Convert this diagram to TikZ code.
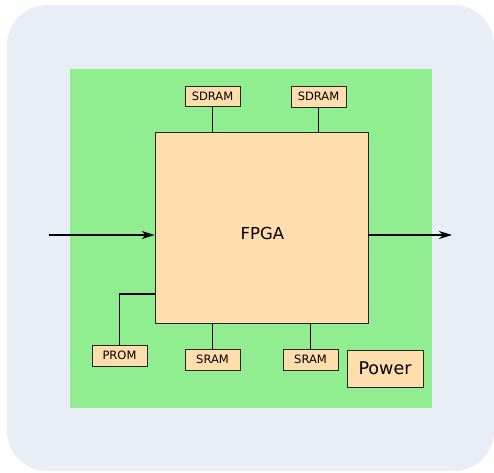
\documentclass[tikz,border=0pt]{standalone}
\usepackage{fontspec}
\setmainfont{DejaVu Sans}
\usetikzlibrary{arrows.meta}
\definecolor{panel}{HTML}{E9EEF6}
\definecolor{board}{HTML}{90EE90}
\definecolor{chip}{HTML}{FFDEAD}
\tikzset{
  part/.style={draw=black!85, fill=chip, line width=0.8pt, inner sep=0pt, font=\fontsize{11.5}{11.5}\selectfont},
  bus/.style={line width=1.1pt},
  sig/.style={line width=1.1pt, -{Stealth[length=13pt,width=8pt,inset=4pt]}}
}

\begin{document}
\begin{tikzpicture}[x=1pt,y=-1pt]
			%%%%% PANEL %%%%%
			\useasboundingbox (0,0) rectangle (494,472);
			\fill[panel, rounded corners=40pt] (7,5) rectangle (494,471);
			\fill[board] (70,69) rectangle (432,408);
			
			%%%%% PARTS %%%%%
			\node[part, minimum width=213pt, minimum height=191pt] (fpga) at (261.5,227.5) {};
			\node[font=\fontsize{16.5}{16.5}\selectfont] (fpgalabel) at (262.5,233) {FPGA};
			\node[part, minimum width=55pt, minimum height=20pt] (sdramA) at (212.5,96) {SDRAM};
			\node[part, minimum width=55pt, minimum height=21pt] (sdramB) at (318.5,96.5) {SDRAM};
			\node[part, minimum width=55pt, minimum height=21pt] (prom) at (119.5,355.5) {PROM};
			\node[part, minimum width=55pt, minimum height=21pt] (sramA) at (212.5,359.5) {SRAM};
			\node[part, minimum width=55pt, minimum height=21pt] (sramB) at (310.5,359.5) {SRAM};
			\node[part, minimum width=76pt, minimum height=37pt, font=\fontsize{17.5}{17.5}\selectfont] (power) at (385,368.5) {Power};
			
			%%%%% BUSES %%%%%
			\draw[bus] (sdramA.south) -- (sdramA.south |- fpga.north);
			\draw[bus] (sdramB.south) -- (sdramB.south |- fpga.north);
			\draw[bus] (sramA.north) -- (sramA.north |- fpga.south);
			\draw[bus] (sramB.north) -- (sramB.north |- fpga.south);
			\coordinate (promtap) at (155,294);
			\draw[bus] (prom.north) |- (promtap);
			
			%%%%% SIGNALS %%%%%
			\coordinate (in) at (49,235);
			\coordinate (out) at (452,235);
			\draw[sig] (in) -- (in -| fpga.west);
			\draw[sig] (out -| fpga.east) -- (out);
		\end{tikzpicture}
\end{document}
